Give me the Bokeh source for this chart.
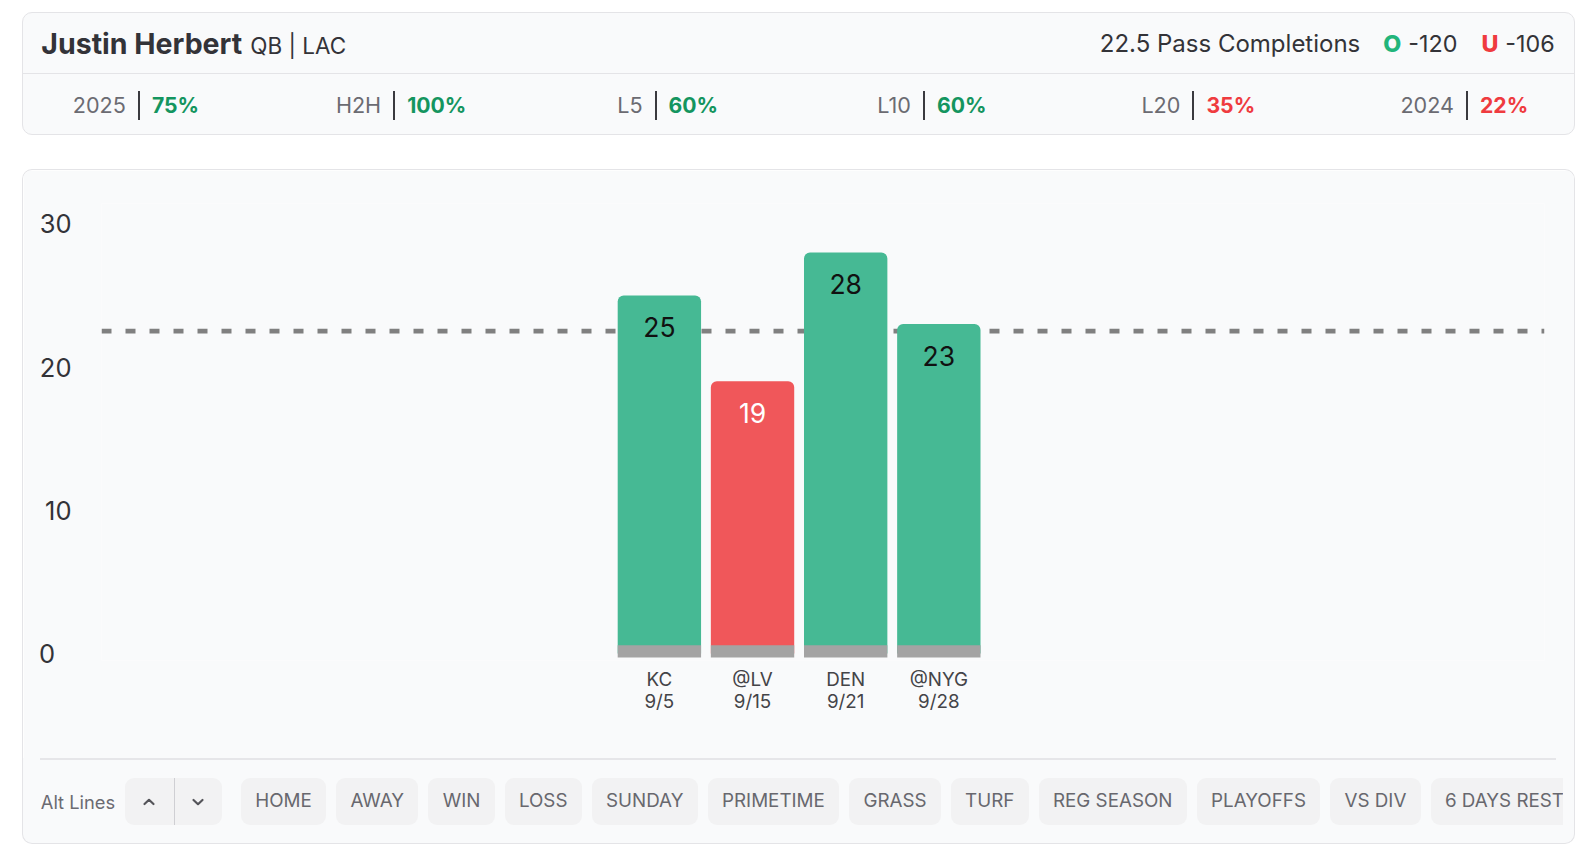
from bokeh.plotting import figure
from bokeh.models import Range1d, FixedTicker, Span, LabelSet, ColumnDataSource, Div, Spacer
from bokeh.layouts import column, row
from bokeh.core.properties import value
from bokeh.embed import file_html
from bokeh.resources import INLINE

# ---------------- data ----------------
player = "Justin Herbert"
position_team = "QB | LAC"
prop_line = 22.5
prop_name = "Pass Completions"
over_odds = "-120"
under_odds = "-106"

stat_labels = ["2025", "H2H", "L5", "L10", "L20", "2024"]
stat_values = ["75%", "100%", "60%", "60%", "35%", "22%"]
stat_hit = [True, True, True, True, False, False]

opponents = ["KC", "@LV", "DEN", "@NYG"]
game_dates = ["9/5", "9/15", "9/21", "9/28"]
completions = [25, 19, 28, 23]

y_ticks = [0, 10, 20, 30]

filters = ["HOME", "AWAY", "WIN", "LOSS", "SUNDAY", "PRIMETIME", "GRASS", "TURF",
           "REG SEASON", "PLAYOFFS", "VS DIV", "6 DAYS REST"]

# ---------------- style ----------------
S = 1.0158  # layout scale
FONT = "Inter"
GREEN = "#46B994"
RED = "#F0575A"
GREEN_TXT = "#14955F"
RED_TXT = "#EF3B3F"
CARD_BG = "#F9FAFB"
BORDER = "#E4E4E7"
CARD_W = 1553


def r(v):
    return round(v * S, 1)


# ---------------- header card ----------------
stat_lefts = [49, 308, 585, 841, 1101, 1356]
stats_html = ""
for left, lab, val, hit in zip(stat_lefts, stat_labels, stat_values, stat_hit):
    col = GREEN_TXT if hit else RED_TXT
    stats_html += (
        f'<div style="position:absolute;left:{r(left)}px;top:0;height:61px;'
        f'display:flex;align-items:center;white-space:nowrap;">'
        f'<span style="font-size:21.6px;color:#6B6B72;">{lab}</span>'
        f'<span style="display:inline-block;width:2px;height:29px;background:#3A3A3F;margin:0 12px;"></span>'
        f'<span style="font-size:21.2px;font-weight:700;color:{col};">{val}</span></div>'
    )

header_html = (
    f'<div style="position:relative;box-sizing:border-box;width:{CARD_W}px;height:123px;font-family:{FONT};'
    f'border:1.5px solid {BORDER};border-radius:10px;background:{CARD_BG};overflow:hidden;">'
    f'<div style="position:absolute;left:0;top:0;width:100%;height:60.5px;border-bottom:1.5px solid {BORDER};">'
    f'<div style="position:absolute;left:{r(18)}px;top:0;line-height:61px;white-space:nowrap;color:#333338;">'
    f'<span style="font-size:28.5px;font-weight:700;">{player}</span>'
    f'<span style="font-size:22.5px;margin-left:8px;">{position_team}</span></div>'
    f'<div style="position:absolute;right:{r(19)}px;top:0;line-height:61px;white-space:nowrap;color:#333338;font-size:23.3px;">'
    f'<span style="font-size:24px;">{prop_line} {prop_name}</span>'
    f'<span style="margin-left:23px;color:#22B57A;font-weight:800;">O</span>'
    f'<span style="margin-left:7px;">{over_odds}</span>'
    f'<span style="margin-left:24px;color:{RED_TXT};font-weight:800;">U</span>'
    f'<span style="margin-left:7px;">{under_odds}</span></div>'
    f'</div>'
    f'<div style="position:absolute;left:0;top:62px;width:100%;height:61px;">{stats_html}</div>'
    f'</div>'
)

header = Div(text=header_html, width=CARD_W, height=123, margin=0)

# ---------------- chart ----------------
colors = [GREEN if v > prop_line else RED for v in completions]
label_colors = ["#111111" if v > prop_line else "#FFFFFF" for v in completions]
xs = list(range(len(completions)))

src = ColumnDataSource(dict(x=xs, top=completions, color=colors,
                            label=[str(v) for v in completions], label_color=label_colors))

p = figure(width=CARD_W, height=589, output_backend="svg", toolbar_location=None,
           x_range=Range1d(-5.989, 9.502), y_range=Range1d(-0.496, 31.418),
           min_border_left=78, min_border_right=32, min_border_top=33, min_border_bottom=99,
           background_fill_color=CARD_BG, border_fill_color=CARD_BG, outline_line_color=None,
           margin=0,
           styles={"border": f"1.5px solid {BORDER}", "border-bottom": "none",
                   "border-radius": "10px 10px 0 0", "overflow": "hidden"})
p.grid.visible = False

line = Span(location=prop_line, dimension="width", line_color="#808080",
            line_width=4.8, line_dash="10 14", level="underlay")
p.add_layout(line)

p.vbar(x="x", top="top", bottom=0, width=0.895, fill_color="color", line_color=None,
       border_radius=(6, 6, 0, 0), source=src)
p.vbar(x="x", top=0.57, bottom=-0.28, width=0.895, fill_color="#A3A3A3", line_color=None, source=src)

labels = LabelSet(x="x", y="top", text="label", text_color="label_color", source=src,
                  y_offset=-31.5, text_align="center", text_baseline="middle",
                  text_font=value(FONT), text_font_size="26.5px")
p.add_layout(labels)

# axes
p.yaxis.ticker = FixedTicker(ticks=y_ticks)
p.yaxis.major_label_overrides = {0: "0\u2007"}
p.yaxis.axis_line_color = None
p.yaxis.major_tick_line_color = None
p.yaxis.minor_tick_line_color = None
p.yaxis.major_tick_out = 0
p.yaxis.major_label_standoff = 30
p.yaxis.major_label_text_font = FONT
p.yaxis.major_label_text_font_size = "25.5px"
p.yaxis.major_label_text_color = "#333338"

p.xaxis.ticker = FixedTicker(ticks=xs)
p.xaxis.major_label_overrides = {i: f"{o}\n{d}" for i, (o, d) in enumerate(zip(opponents, game_dates))}
p.xaxis.axis_line_color = None
p.xaxis.major_tick_line_color = None
p.xaxis.minor_tick_line_color = None
p.xaxis.major_tick_out = 0
p.xaxis.major_label_standoff = 7
p.xaxis.major_label_text_font = FONT
p.xaxis.major_label_text_font_size = "18.8px"
p.xaxis.major_label_text_color = "#444448"
p.xaxis.major_label_text_line_height = 0.98

# ---------------- filter bar ----------------
btn_style = (f"display:flex;align-items:center;height:{r(46)}px;padding:0 {r(14)}px;border-radius:9px;"
             "background:#F2F2F3;color:#68686E;font-size:18.8px;flex:none;")
chev_up = ('<svg width="14" height="10" viewBox="0 0 14 10"><polyline points="2.5,7 7,2.8 11.5,7" '
           'fill="none" stroke="#55555A" stroke-width="2.2" stroke-linecap="round" stroke-linejoin="round"/></svg>')
chev_dn = ('<svg width="14" height="10" viewBox="0 0 14 10"><polyline points="2.5,3 7,7.2 11.5,3" '
           'fill="none" stroke="#55555A" stroke-width="2.2" stroke-linecap="round" stroke-linejoin="round"/></svg>')
buttons = "".join(f'<div style="{btn_style}">{f}</div>' for f in filters)

bottom_html = (
    f'<div style="position:relative;box-sizing:border-box;width:{CARD_W}px;height:86px;font-family:{FONT};'
    f'border:1.5px solid {BORDER};border-top:none;border-radius:0 0 10px 10px;background:{CARD_BG};overflow:hidden;">'
    f'<div style="position:absolute;left:{r(17)}px;right:{r(18)}px;top:0;border-top:2px solid #E6E6E9;"></div>'
    f'<div style="position:absolute;left:{r(17.5)}px;right:{r(11)}px;top:{r(20)}px;height:{r(46)}px;display:flex;'
    f'align-items:center;gap:{r(10)}px;overflow:hidden;white-space:nowrap;">'
    f'<span style="font-size:18.3px;color:#6B6B72;flex:none;">Alt Lines</span>'
    f'<div style="display:flex;flex:none;height:{r(46)}px;width:{r(95)}px;border-radius:9px;background:#F2F2F3;margin-right:{r(9)}px;">'
    f'<div style="width:{r(47.5)}px;display:flex;align-items:center;justify-content:center;">{chev_up}</div>'
    f'<div style="width:1.5px;background:#CFCFD3;"></div>'
    f'<div style="flex:1;display:flex;align-items:center;justify-content:center;">{chev_dn}</div>'
    f'</div>'
    f'{buttons}'
    f'</div></div>'
)
bottom = Div(text=bottom_html, width=CARD_W, height=86, margin=0)

card_stack = column(Spacer(width=CARD_W, height=12, margin=0), header,
                    Spacer(width=CARD_W, height=34, margin=0), p, bottom, spacing=0, margin=0)
root = row(Spacer(width=22, height=10, margin=0), card_stack, spacing=0, margin=0)

open("out.html", "w").write(file_html(root, INLINE))
